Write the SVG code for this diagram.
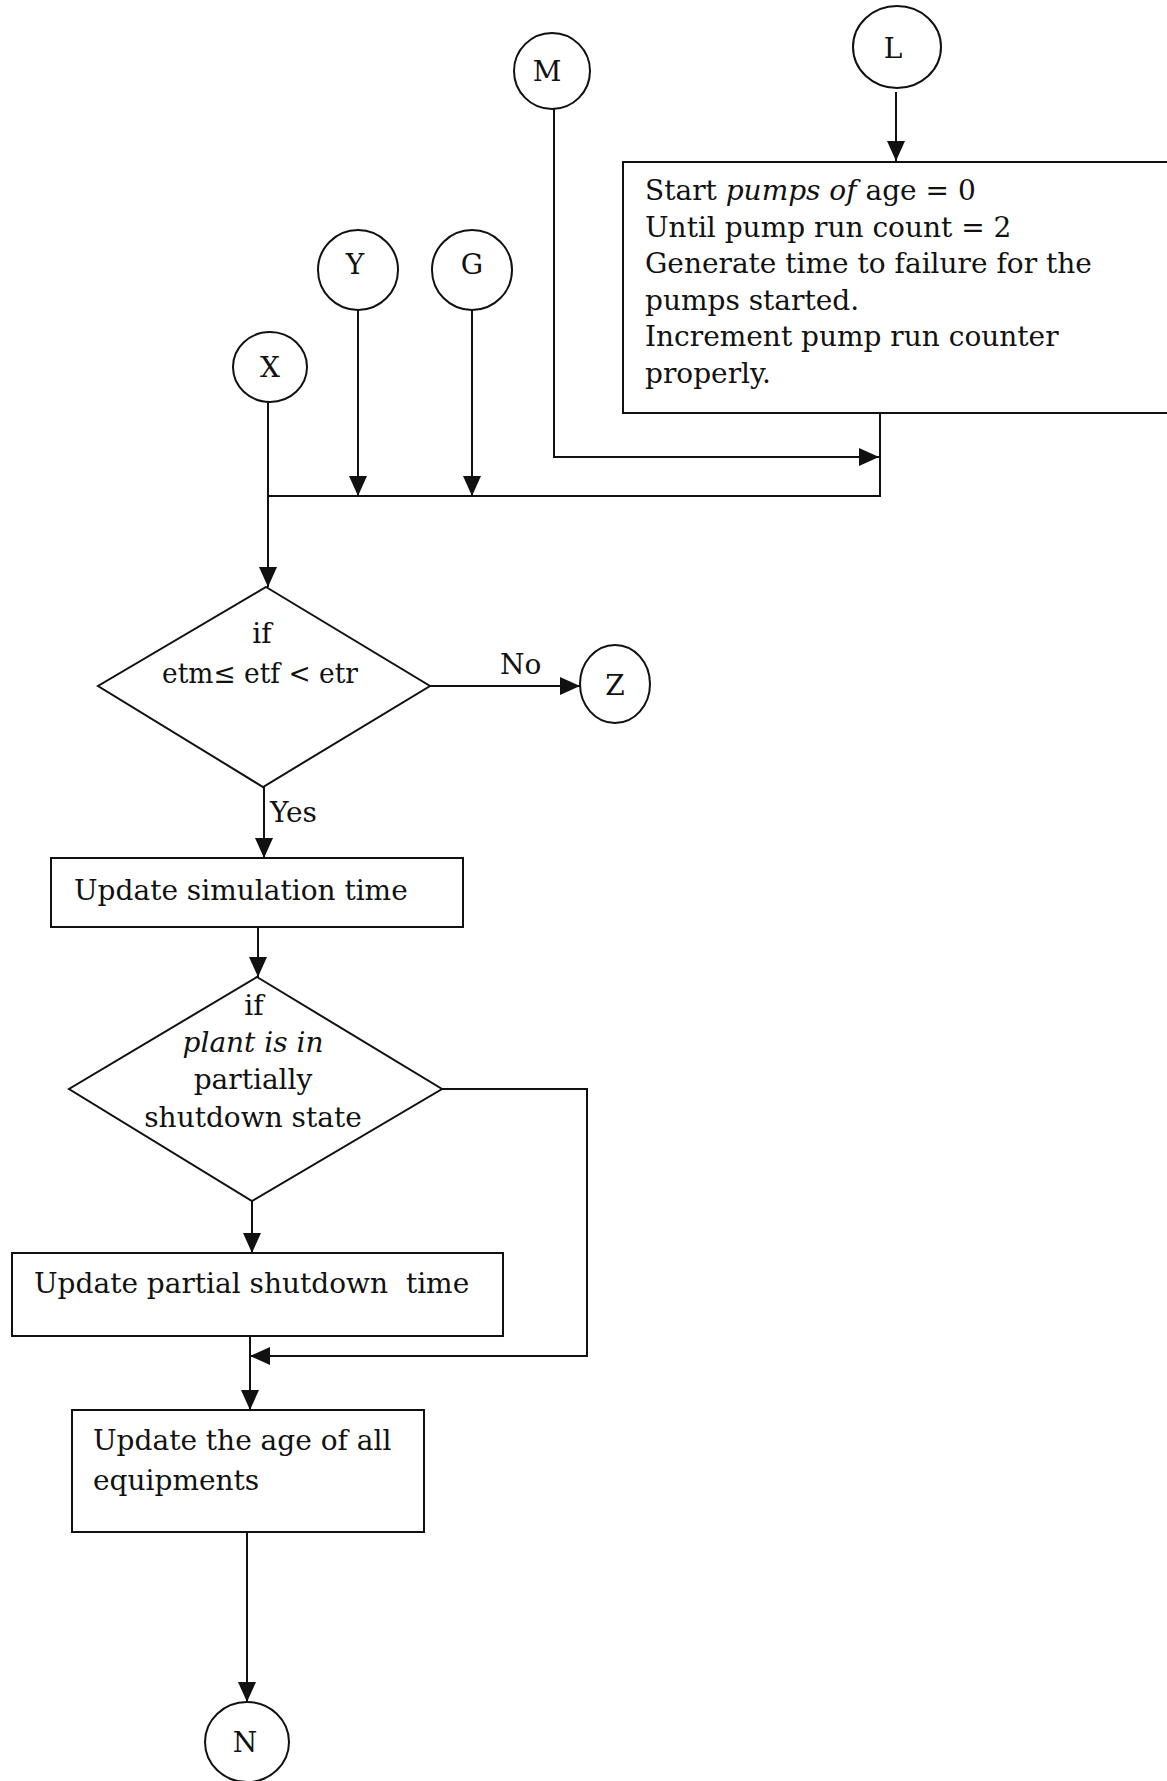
<svg xmlns="http://www.w3.org/2000/svg" width="1167" height="1781" viewBox="0 0 1167 1781">
  <style>
    .shape { fill: #ffffff; stroke: #111111; stroke-width: 2; }
    .wire { fill: none; stroke: #111111; stroke-width: 2; }
    .txt { font-family: "DejaVu Serif", "Liberation Serif", serif; font-size: 28px; fill: #111111; }
    .lbl { font-family: "DejaVu Serif", "Liberation Serif", serif; font-size: 28px; fill: #111111; text-anchor: middle; }
    .mid { text-anchor: middle; }
    .it { font-style: italic; }
  </style>
  <defs>
    <marker id="arrow" markerUnits="userSpaceOnUse" markerWidth="20" markerHeight="18" refX="20" refY="9" orient="auto">
      <path d="M0,0 L20,9 L0,18 Z" fill="#111111"/>
    </marker>
  </defs>

  <rect width="1167" height="1781" fill="#ffffff"/>

  <!-- connectors -->
  <g id="connectors">
    <path class="wire" d="M896,92 V161" marker-end="url(#arrow)"/>
    <path class="wire" d="M554,109 V457 H879" marker-end="url(#arrow)"/>
    <path class="wire" d="M880,413 V496 H268"/>
    <path class="wire" d="M268,402 V587" marker-end="url(#arrow)"/>
    <path class="wire" d="M358,310 V496" marker-end="url(#arrow)"/>
    <path class="wire" d="M472,310 V496" marker-end="url(#arrow)"/>
    <path class="wire" d="M430,686 H580" marker-end="url(#arrow)"/>
    <path class="wire" d="M264,787 V858" marker-end="url(#arrow)"/>
    <path class="wire" d="M258,927 V977" marker-end="url(#arrow)"/>
    <path class="wire" d="M252,1201 V1253" marker-end="url(#arrow)"/>
    <path class="wire" d="M442,1089 H587 V1356 H250" marker-end="url(#arrow)"/>
    <path class="wire" d="M250,1336 V1410" marker-end="url(#arrow)"/>
    <path class="wire" d="M247,1532 V1702" marker-end="url(#arrow)"/>
  </g>

  <!-- connector labels -->
  <text class="txt" x="500" y="674">No</text>
  <text class="txt" x="270" y="822">Yes</text>

  <g id="node-M">
    <ellipse class="shape" cx="552" cy="71" rx="38" ry="38"/>
    <text class="lbl" x="547" y="81">M</text>
  </g>

  <g id="node-L">
    <ellipse class="shape" cx="897" cy="47" rx="44" ry="41"/>
    <text class="lbl" x="893" y="58">L</text>
  </g>

  <g id="node-start-pumps">
    <rect class="shape" x="623" y="162" width="560" height="251"/>
    <text class="txt" x="645" y="200">Start <tspan class="it">pumps of</tspan> age = 0</text>
    <text class="txt" x="645" y="237">Until pump run count = 2</text>
    <text class="txt" x="645" y="273">Generate time to failure for the</text>
    <text class="txt" x="645" y="310">pumps started.</text>
    <text class="txt" x="645" y="346">Increment pump run counter</text>
    <text class="txt" x="645" y="383">properly.</text>
  </g>

  <g id="node-Y">
    <ellipse class="shape" cx="358" cy="270" rx="40" ry="40"/>
    <text class="lbl" x="355" y="274">Y</text>
  </g>

  <g id="node-G">
    <ellipse class="shape" cx="472" cy="270" rx="40" ry="40"/>
    <text class="lbl" x="472" y="274">G</text>
  </g>

  <g id="node-X">
    <ellipse class="shape" cx="270" cy="367" rx="37" ry="35"/>
    <text class="lbl" x="270" y="377">X</text>
  </g>

  <g id="node-check-etf">
    <polygon class="shape" points="266,587 430,686 263,787 98,686"/>
    <text class="txt mid" x="262" y="643">if</text>
    <text class="txt mid" x="260" y="683" textLength="196" lengthAdjust="spacingAndGlyphs">etm≤ etf &lt; etr</text>
  </g>

  <g id="node-Z">
    <ellipse class="shape" cx="615" cy="684" rx="35" ry="39"/>
    <text class="lbl" x="615" y="695">Z</text>
  </g>

  <g id="node-sim-time">
    <rect class="shape" x="51" y="858" width="412" height="69"/>
    <text class="txt" x="74" y="900">Update simulation time</text>
  </g>

  <g id="node-check-shutdown">
    <polygon class="shape" points="257,977 442,1089 252,1201 69,1089"/>
    <text class="txt mid" x="254" y="1015">if</text>
    <text class="txt mid" x="253" y="1052"><tspan class="it">plant is in</tspan></text>
    <text class="txt mid" x="253" y="1089">partially</text>
    <text class="txt mid" x="253" y="1127">shutdown state</text>
  </g>

  <g id="node-partial-shutdown">
    <rect class="shape" x="12" y="1253" width="491" height="83"/>
    <text class="txt" x="34" y="1293" xml:space="preserve">Update partial shutdown  time</text>
  </g>

  <g id="node-age">
    <rect class="shape" x="72" y="1410" width="352" height="122"/>
    <text class="txt" x="93" y="1450">Update the age of all</text>
    <text class="txt" x="93" y="1490">equipments</text>
  </g>

  <g id="node-N">
    <ellipse class="shape" cx="247" cy="1742" rx="42" ry="40"/>
    <text class="lbl" x="245" y="1752">N</text>
  </g>
</svg>
